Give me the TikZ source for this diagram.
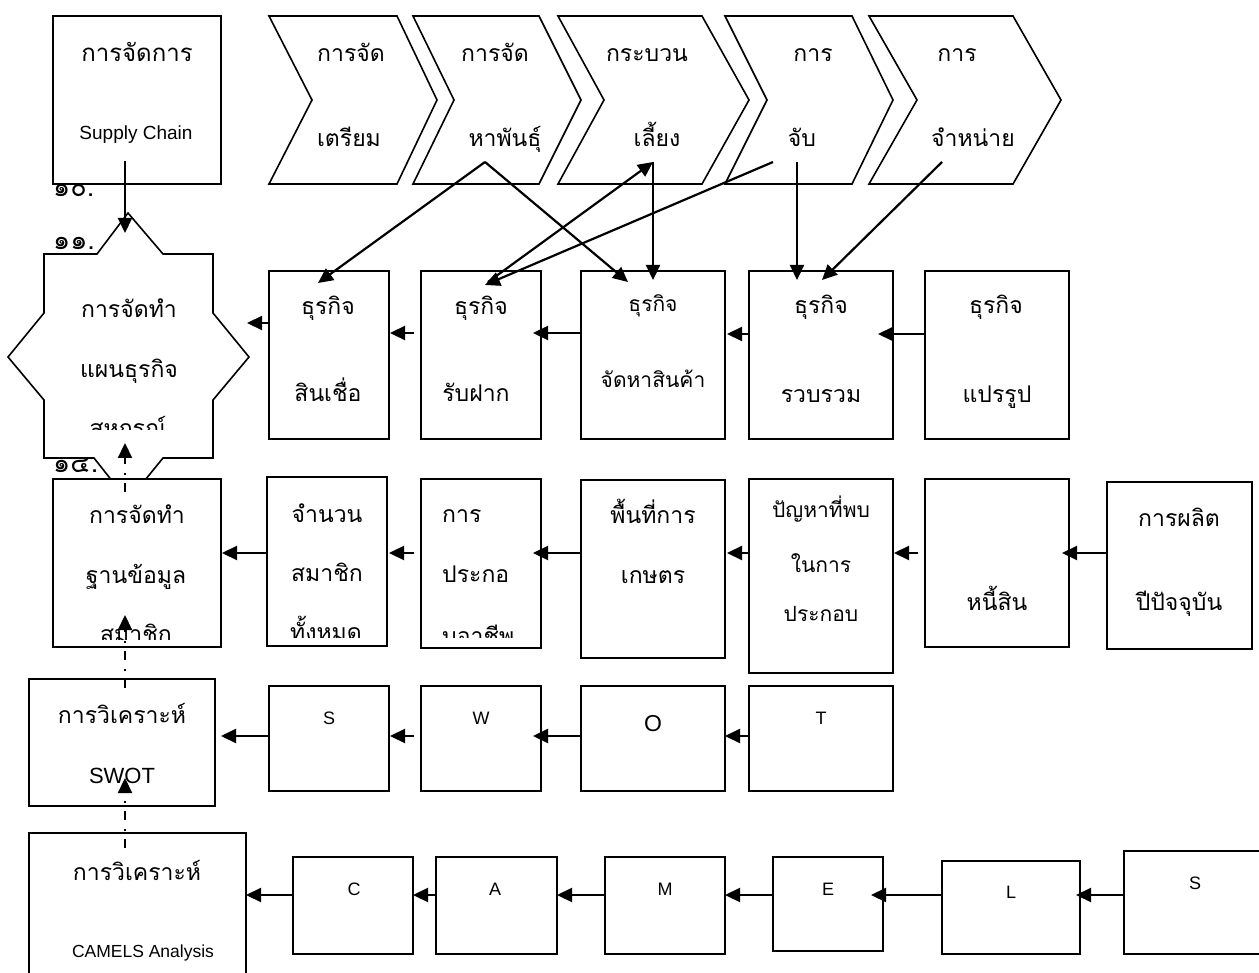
\documentclass[tikz,border=0pt]{standalone}
\usepackage{fontspec}
\setmainfont{Liberation Sans}
\newfontfamily\thaifont[Script=Thai]{Loma}
\usetikzlibrary{arrows.meta}
\begin{document}
\begin{tikzpicture}[x=1pt,y=-1pt,
  box/.style={draw, line width=1.6pt, fill=white, inner sep=0pt, outer sep=0pt, anchor=north west},
  shp/.style={draw, line width=1.6pt, fill=white, line join=miter},
  th/.style={font=\thaifont\fontsize{23}{26}\selectfont, anchor=base, inner sep=0pt},
  ths/.style={font=\thaifont\fontsize{21}{24}\selectfont, anchor=base, inner sep=0pt},
  thl/.style={th, anchor=base west},
  num/.style={font=\thaifont\fontsize{27}{30}\selectfont, anchor=base west, inner sep=0pt},
  la/.style={font=\fontsize{18}{22}\selectfont, anchor=base, inner sep=0pt},
  arr/.style={line width=2.2pt, -{Triangle[length=15pt,width=14pt]}},
  dsh/.style={arr, dash pattern=on 9pt off 8pt on 2pt off 9pt},
]
\useasboundingbox (0,0) rectangle (1259,973);
\clip (0,0) rectangle (1259,973);

% list numbers
\node[num] (n10) at (53,197) {๑๐.};
\node[num] (n11) at (53,250) {๑๑.};
\node[num] (n14) at (53,472) {๑๔.};

% star
\draw[shp] (128,213) -- (163,254) -- (213,254) -- (213,313) -- (249,357) -- (213,400)
  -- (213,458) -- (163,458) -- (128,501) -- (94,458) -- (44,458) -- (44,400)
  -- (8,357) -- (44,313) -- (44,254) -- (97,254) -- cycle;
\coordinate (star) at (128,357);

% chevrons
\draw[shp] (269,16) -- (397,16) -- (437,100) -- (397,184) -- (269,184) -- (312,100) -- cycle;
\draw[shp] (413,16) -- (539,16) -- (581,100) -- (539,184) -- (413,184) -- (454,100) -- cycle;
\draw[shp] (558,16) -- (702,16) -- (749,100) -- (702,184) -- (558,184) -- (604,100) -- cycle;
\draw[shp] (725,16) -- (852,16) -- (893,100) -- (852,184) -- (725,184) -- (767,100) -- cycle;
\draw[shp] (869,16) -- (1013,16) -- (1061,100) -- (1013,184) -- (869,184) -- (917,100) -- cycle;

% left column boxes
\node[box, minimum width=168pt, minimum height=168pt] (sc) at (53,16) {};
\node[box, minimum width=168pt, minimum height=168pt] (db) at (53,479) {};
\node[box, minimum width=186pt, minimum height=127pt] (sw) at (29,679) {};
\node[box, minimum width=217pt, minimum height=170pt] (cm) at (29,833) {};

% row 2
\node[box, minimum width=120pt, minimum height=168pt] (b2a) at (269,271) {};
\node[box, minimum width=120pt, minimum height=168pt] (b2b) at (421,271) {};
\node[box, minimum width=144pt, minimum height=168pt] (b2c) at (581,271) {};
\node[box, minimum width=144pt, minimum height=168pt] (b2d) at (749,271) {};
\node[box, minimum width=144pt, minimum height=168pt] (b2e) at (925,271) {};

% row 3
\node[box, minimum width=120pt, minimum height=169pt] (b3a) at (267,477) {};
\node[box, minimum width=120pt, minimum height=169pt] (b3b) at (421,479) {};
\node[box, minimum width=144pt, minimum height=178pt] (b3c) at (581,480) {};
\node[box, minimum width=144pt, minimum height=194pt] (b3d) at (749,479) {};
\node[box, minimum width=144pt, minimum height=168pt] (b3e) at (925,479) {};
\node[box, minimum width=145pt, minimum height=167pt] (b3f) at (1107,482) {};

% row 4
\node[box, minimum width=120pt, minimum height=105pt] (b4a) at (269,686) {};
\node[box, minimum width=120pt, minimum height=105pt] (b4b) at (421,686) {};
\node[box, minimum width=144pt, minimum height=105pt] (b4c) at (581,686) {};
\node[box, minimum width=144pt, minimum height=105pt] (b4d) at (749,686) {};

% row 5
\node[box, minimum width=120pt, minimum height=97pt] (b5a) at (293,857) {};
\node[box, minimum width=121pt, minimum height=97pt] (b5b) at (436,857) {};
\node[box, minimum width=120pt, minimum height=97pt] (b5c) at (605,857) {};
\node[box, minimum width=110pt, minimum height=94pt] (b5d) at (773,857) {};
\node[box, minimum width=138pt, minimum height=93pt] (b5e) at (942,861) {};
\node[box, minimum width=150pt, minimum height=103pt] (b5f) at (1124,851) {};

% ---- texts ----
\node[th, font=\thaifont\fontsize{24}{26}\selectfont] (t-sc1) at (137,62) {การจัดการ};
\node[la, font=\fontsize{19}{22}\selectfont] (t-sc2) at (136,140) {Supply Chain};

\node[th] (t-c1a) at (351,62) {การจัด};
\node[th] (t-c1b) at (349,147) {เตรียม};
\node[th] (t-c2a) at (495,62) {การจัด};
\node[th] (t-c2b) at (505,147) {หาพันธุ์};
\node[th] (t-c3a) at (647,62) {กระบวน};
\node[th] (t-c3b) at (657,147) {เลี้ยง};
\node[th] (t-c4a) at (813,62) {การ};
\node[th] (t-c4b) at (802,147) {จับ};
\node[th] (t-c5a) at (957,62) {การ};
\node[th] (t-c5b) at (973,147) {จำหน่าย};

\node[th] (t-st1) at (129,318) {การจัดทำ};
\node[th] (t-st2) at (129,378) {แผนธุรกิจ};
\begin{scope}
  \clip (44,400) rectangle (213,430);
  \node[th] (t-st3) at (128,437) {สหกรณ์};
\end{scope}

\node[th] (t-db1) at (137,523) {การจัดทำ};
\node[th] (t-db2) at (136,583) {ฐานข้อมูล};
\begin{scope}
  \clip (54,600) rectangle (220,639);
  \node[th] (t-db3) at (136,642) {สมาชิก};
\end{scope}

\node[th] (t-sw1) at (122,723) {การวิเคราะห์};
\node[la, font=\fontsize{22}{26}\selectfont] (t-sw2) at (122,783) {SWOT};
\node[th] (t-cm1) at (137,880) {การวิเคราะห์};
\node[la, font=\fontsize{17.5}{21}\selectfont] (t-cm2) at (143,957) {CAMELS Analysis};

\node[th] (t-2a1) at (328,315) {ธุรกิจ};
\node[th] (t-2a2) at (328,402) {สินเชื่อ};
\node[th] (t-2b1) at (481,315) {ธุรกิจ};
\node[th] (t-2b2) at (476,402) {รับฝาก};
\node[ths] (t-2c1) at (653,312) {ธุรกิจ};
\node[ths] (t-2c2) at (653,388) {จัดหาสินค้า};
\node[th] (t-2d1) at (821,314) {ธุรกิจ};
\node[th] (t-2d2) at (821,403) {รวบรวม};
\node[th] (t-2e1) at (996,314) {ธุรกิจ};
\node[th] (t-2e2) at (997,403) {แปรรูป};

\node[th] (t-3a1) at (327,522) {จำนวน};
\node[th] (t-3a2) at (327,581) {สมาชิก};
\begin{scope}
  \clip (268,600) rectangle (386,637);
  \node[th] (t-3a3) at (326,640) {ทั้งหมด};
\end{scope}
\node[thl] (t-3b1) at (442,522) {การ};
\node[thl] (t-3b2) at (442,582) {ประกอ};
\begin{scope}
  \clip (422,600) rectangle (540,637);
  \node[thl] (t-3b3) at (442,644) {บอาชีพ};
\end{scope}
\node[th] (t-3c1) at (653,523) {พื้นที่การ};
\node[th] (t-3c2) at (653,583) {เกษตร};
\node[ths] (t-3d1) at (821,518) {ปัญหาที่พบ};
\node[ths] (t-3d2) at (821,572) {ในการ};
\node[ths] (t-3d3) at (821,621) {ประกอบ};
\node[th] (t-3e1) at (997,610) {หนี้สิน};
\node[th] (t-3f1) at (1179,526) {การผลิต};
\node[th] (t-3f2) at (1179,610) {ปีปัจจุบัน};

\node[la] (t-4a) at (329,724) {S};
\node[la] (t-4b) at (481,724) {W};
\node[la, font=\fontsize{23}{26}\selectfont] (t-4c) at (653,731) {O};
\node[la] (t-4d) at (821,724) {T};

\node[la] (t-5a) at (354,895) {C};
\node[la] (t-5b) at (495,895) {A};
\node[la] (t-5c) at (665,895) {M};
\node[la] (t-5d) at (828,895) {E};
\node[la] (t-5e) at (1011,898) {L};
\node[la] (t-5f) at (1195,889) {S};

% ---- connectors ----
\coordinate (sc-out) at (125,161);
\coordinate (star-top) at (125,233);
\draw[arr] (sc-out) -- (star-top);

\coordinate (db-up) at (125,492);
\coordinate (star-in) at (125,443);
\coordinate (sw-up) at (125,688);
\coordinate (db-in) at (125,615);
\coordinate (cm-up) at (125,848);
\coordinate (sw-in) at (125,778);
\draw[dsh] (db-up) -- (star-in);
\draw[dsh] (sw-up) -- (db-in);
\draw[dsh] (cm-up) -- (sw-in);

% chevrons to row 2
\coordinate (ch2o) at (485,162);
\coordinate (ch3i) at (653,162);
\coordinate (ch4o) at (773,162);
\coordinate (ch4p) at (797,162);
\coordinate (ch5o) at (942,162);
\coordinate (b2a-i) at (318,283);
\coordinate (b2b-i) at (485,285);
\coordinate (b2b-o) at (488,282);
\coordinate (b2c-i) at (628,282);
\coordinate (b2c-j) at (653,280);
\coordinate (b2d-i) at (797,280);
\coordinate (b2d-j) at (822,280);
\draw[arr] (ch2o) -- (b2a-i);
\draw[arr] (ch2o) -- (b2c-i);
\draw[arr] (ch4o) -- (b2b-i);
\draw[arr] (b2b-o) -- (ch3i);
\draw[arr] (ch3i) -- (b2c-j);
\draw[arr] (ch4p) -- (b2d-i);
\draw[arr] (ch5o) -- (b2d-j);

% row 2 arrows
\coordinate (starR) at (247,323);
\draw[arr, shorten >=-15pt] (b2e.west |- 0,334) -- (b2d.east |- 0,334);
\draw[arr, shorten >=2pt] (b2d.west |- 0,334) -- (b2c.east |- 0,334);
\draw[arr, shorten >=-8pt] (b2c.west |- 0,333) -- (b2b.east |- 0,333);
\draw[arr, shorten <=7pt, shorten >=1pt] (b2b.west |- 0,333) -- (b2a.east |- 0,333);
\draw[arr] (b2a.west |- 0,323) -- (starR);

% row 3 arrows
\draw[arr, shorten >=-7pt] (b3f.west |- 0,553) -- (b3e.east |- 0,553);
\draw[arr, shorten <=7pt, shorten >=1pt] (b3e.west |- 0,553) -- (b3d.east |- 0,553);
\draw[arr, shorten >=2pt] (b3d.west |- 0,553) -- (b3c.east |- 0,553);
\draw[arr, shorten >=-8pt] (b3c.west |- 0,553) -- (b3b.east |- 0,553);
\draw[arr, shorten <=7pt, shorten >=2pt] (b3b.west |- 0,553) -- (b3a.east |- 0,553);
\draw[arr, shorten >=1pt] (b3a.west |- 0,553) -- (db.east |- 0,553);

% row 4 arrows
\draw[arr] (b4d.west |- 0,736) -- (b4c.east |- 0,736);
\draw[arr, shorten >=-8pt] (b4c.west |- 0,736) -- (b4b.east |- 0,736);
\draw[arr, shorten <=7pt, shorten >=1pt] (b4b.west |- 0,736) -- (b4a.east |- 0,736);
\draw[arr, shorten >=6pt] (b4a.west |- 0,736) -- (sw.east |- 0,736);

% row 5 arrows
\draw[arr, shorten >=-4pt] (b5f.west |- 0,895) -- (b5e.east |- 0,895);
\draw[arr, shorten >=-12pt] (b5e.west |- 0,895) -- (b5d.east |- 0,895);
\draw[arr] (b5d.west |- 0,895) -- (b5c.east |- 0,895);
\draw[arr] (b5c.west |- 0,895) -- (b5b.east |- 0,895);
\draw[arr] (b5b.west |- 0,895) -- (b5a.east |- 0,895);
\draw[arr] (b5a.west |- 0,895) -- (cm.east |- 0,895);
\end{tikzpicture}
\end{document}
